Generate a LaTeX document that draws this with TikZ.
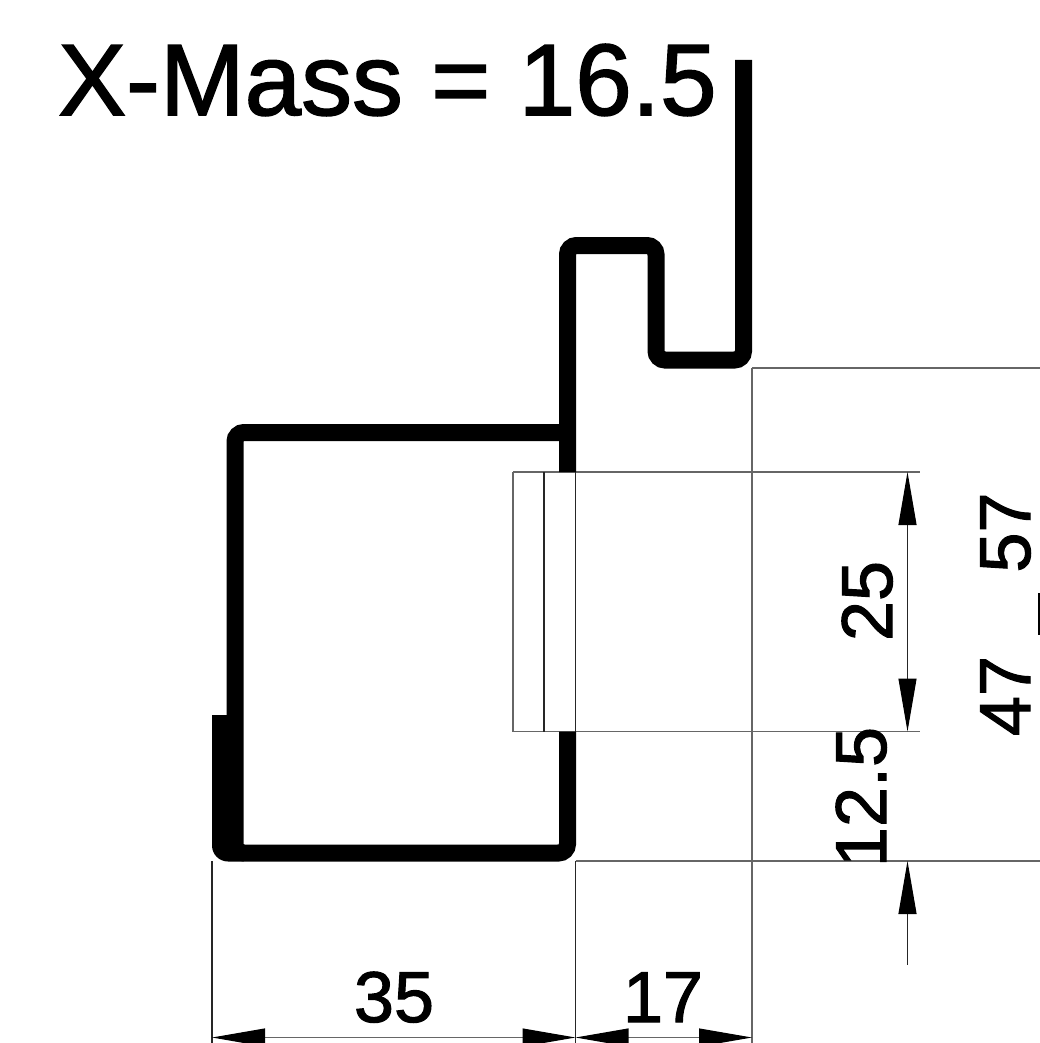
\documentclass[tikz,border=0pt]{standalone}
\usepackage{fontspec}
\setmainfont{Liberation Sans}
\newfontfamily\labelfont[FakeBold=1.5]{Liberation Sans}
\usetikzlibrary{arrows.meta}
\tikzset{
  x=1pt,y=-1pt,
  wall/.style={line width=17pt,line join=miter,line cap=butt},
  thinline/.style={line width=1.1pt,draw=black!60},
  darkline/.style={line width=1.1pt,draw=black!85},
  dimline/.style={line width=1.1pt,draw=black!85},
  dimtext/.style={inner sep=0pt,anchor=base,font=\labelfont\fontsize{72}{72}\selectfont},
  titletext/.style={inner sep=0pt,anchor=base,font=\labelfont\fontsize{101.7}{102}\selectfont}
}
\begin{document}
\begin{tikzpicture}
\useasboundingbox (0,0) rectangle (1040,1043);
% named points
\coordinate (h1L) at (752,368); \coordinate (h1R) at (1040,368);
\coordinate (h2L) at (513,472); \coordinate (h2R) at (920,472);
\coordinate (h3L) at (513,731.5); \coordinate (h3R) at (920,731.5);
\coordinate (h4L) at (575.5,861); \coordinate (h4R) at (1040,861);
\coordinate (v1T) at (752,368); \coordinate (v1B) at (752,1043);
\coordinate (v2T) at (575.5,861); \coordinate (v2B) at (575.5,1043);
\coordinate (v3T) at (212,861); \coordinate (v3B) at (212,1043);
\coordinate (d25T) at (907.5,472); \coordinate (d25B) at (907.5,731.5);
\coordinate (d12T) at (907.5,861); \coordinate (d12B) at (907.5,965);
\coordinate (dA) at (212,1037.5); \coordinate (dB) at (575.5,1037.5); \coordinate (dC) at (752,1037.5);
% extension lines
\draw[thinline] (h1L) -- (h1R);
\draw[thinline] (h2L) -- (h2R);
\draw[thinline] (h3L) -- (h3R);
\draw[thinline] (h4L) -- (h4R);
\draw[thinline] (v1T) -- (v1B);
\draw[darkline] (v2T) -- (v2B);
\draw[darkline] (v3T) -- (v3B);
\draw[thinline] (h2L) -- (h3L);
\draw[darkline] (544,472) -- (544,731.5);
\draw[darkline] (575.5,472) -- (575.5,731.5);
% profile
\draw[wall,rounded corners=9pt] (743.5,60) -- (743.5,360) -- (656,360) -- (656,245.5) -- (567.5,245.5) -- (567.5,472);
\draw[wall,rounded corners=9pt] (567.5,731.5) -- (567.5,853) -- (235,853) -- (235,432.5) -- (566,432.5);
\fill (212,715) -- (236,715) -- (243.5,861.5) -- (228,861.5) arc[start angle=90,end angle=180,radius=16] -- cycle;
% dimensions
\draw[dimline,{Triangle[length=53pt,width=18pt,black]}-{Triangle[length=53pt,width=18pt,black]}] (d25T) -- (d25B);
\draw[dimline,{Triangle[length=53pt,width=18pt,black]}-] (d12T) -- (d12B);
\draw[thinline,{Triangle[length=53pt,width=18pt,black]}-{Triangle[length=53pt,width=18pt,black]}] (dA) -- (dB);
\draw[thinline,{Triangle[length=53pt,width=18pt,black]}-{Triangle[length=53pt,width=18pt,black]}] (dB) -- (dC);
\fill (1038,593) rectangle (1040,635);
% text
\node[titletext] (title) at (387.5,115) {X-Mass = 16.5};
\node[dimtext] (t35) at (394,1022) {35};
\node[dimtext] (t17) at (663,1022) {17};
\node[dimtext,rotate=90] (t25) at (892,601) {25};
\node[dimtext,rotate=90] (t57) at (1030,532.5) {57};
\node[dimtext,rotate=90] (t47) at (1030,696) {47};
\node[dimtext,rotate=90] (t125) at (886,797) {12.5};
\end{tikzpicture}
\end{document}
